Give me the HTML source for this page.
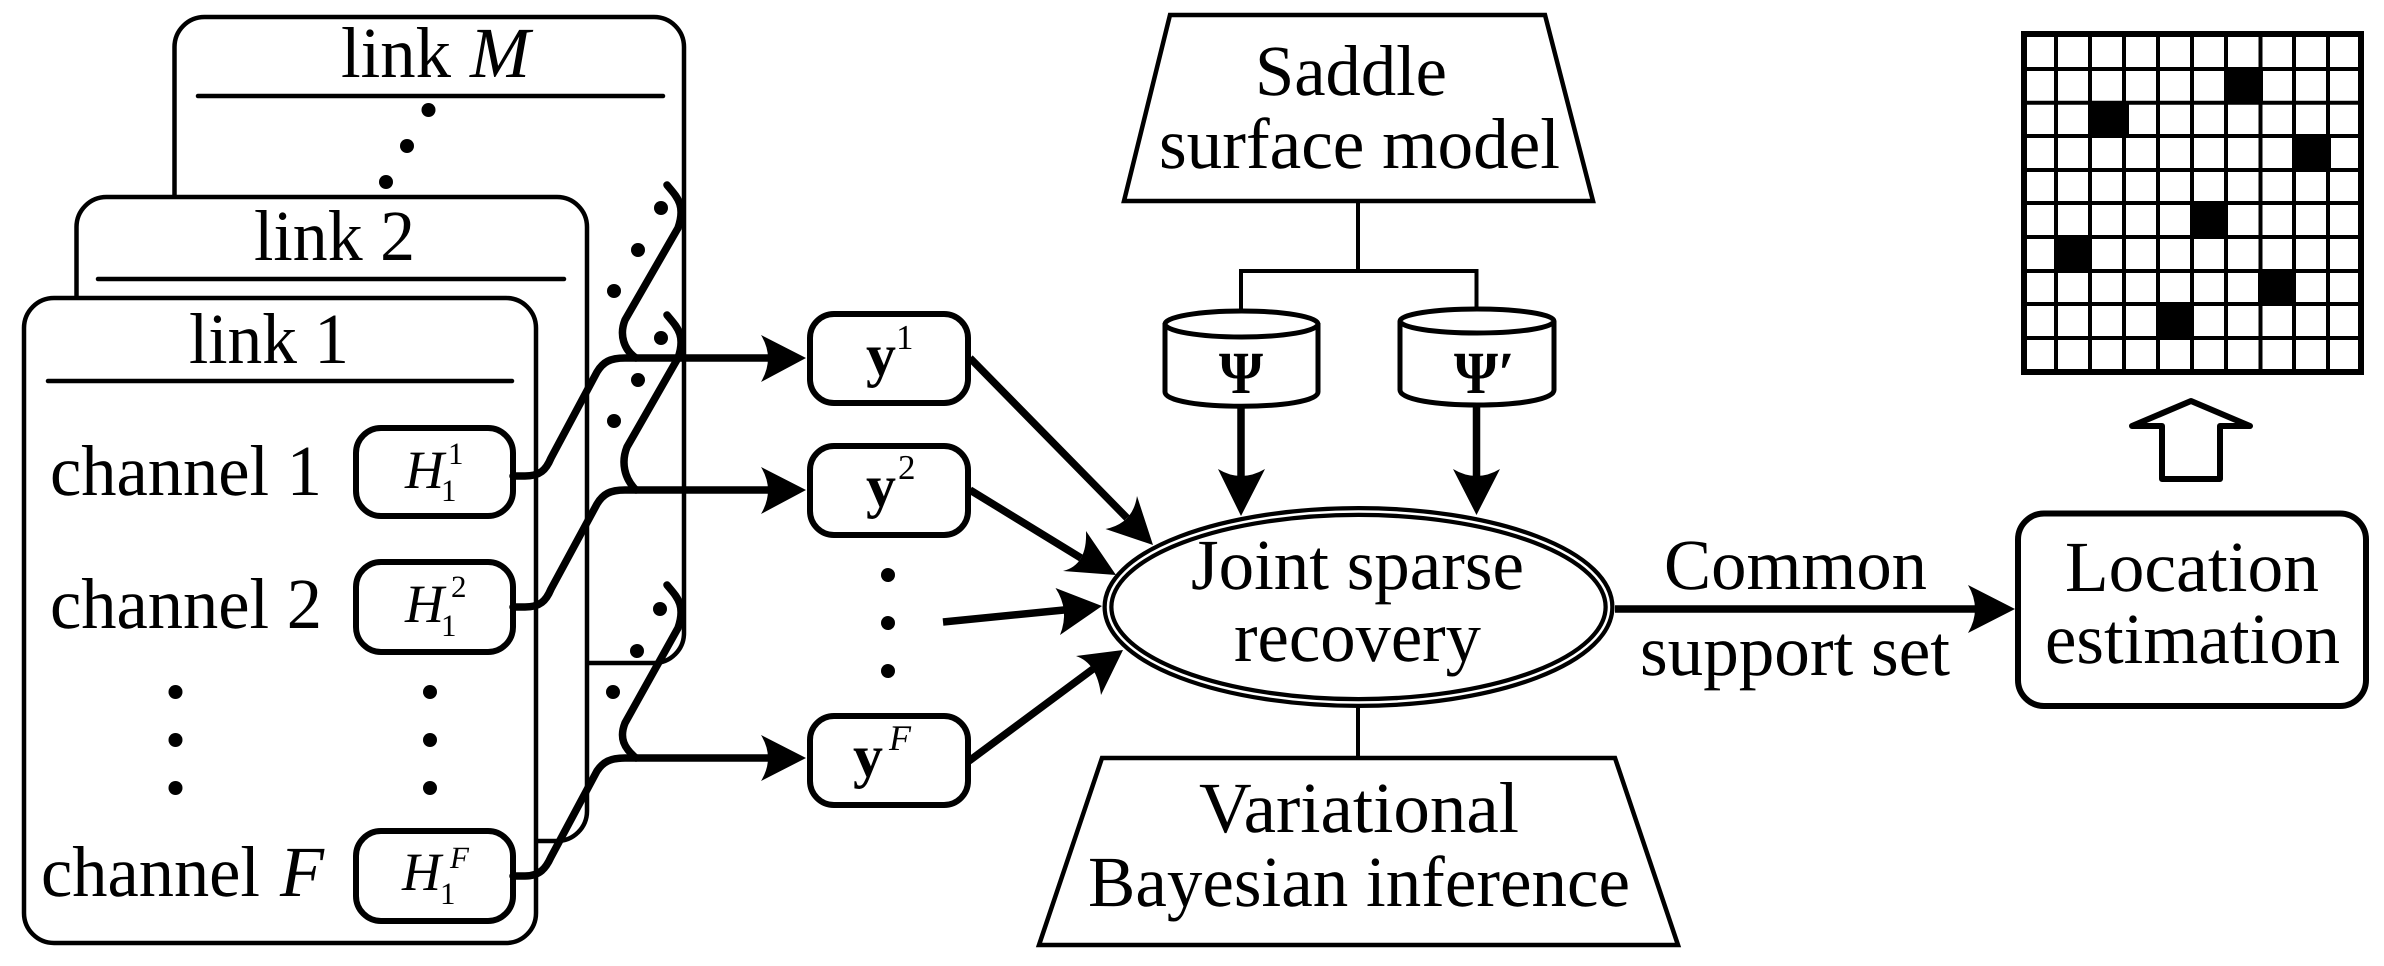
<!DOCTYPE html>
<html><head><meta charset="utf-8"><style>
html,body{margin:0;padding:0;background:#fff;width:2384px;height:966px;overflow:hidden}
svg{display:block}
text{font-family:"Liberation Serif",serif;fill:#000;text-rendering:geometricPrecision}
.i{font-style:italic}.b{font-weight:bold}
</style></head><body>
<svg width="2384" height="966" viewBox="0 0 2384 966" xmlns="http://www.w3.org/2000/svg">
<rect width="2384" height="966" fill="#fff"/>
<!-- link boxes -->
<g fill="#fff" stroke="#000" stroke-width="4.5">
<rect x="174.5" y="17" width="509.5" height="646" rx="30" ry="30"/>
<rect x="76.5" y="197" width="510.5" height="644" rx="30" ry="30"/>
<rect x="24" y="298" width="512" height="645" rx="30" ry="30"/>
</g>
<g stroke="#000" stroke-width="4.5" stroke-linecap="round">
<line x1="198" y1="96" x2="663" y2="96"/>
<line x1="98" y1="279" x2="564" y2="279"/>
<line x1="48" y1="381" x2="512" y2="381"/>
</g>
<g font-size="72">
<text x="341" y="77" textLength="110" lengthAdjust="spacingAndGlyphs">link</text>
<text x="470" y="77" class="i">M</text>
<text x="254" y="260" textLength="161" lengthAdjust="spacingAndGlyphs">link 2</text>
<text x="189" y="363" textLength="160" lengthAdjust="spacingAndGlyphs">link 1</text>
<text x="50" y="495" textLength="272" lengthAdjust="spacingAndGlyphs">channel 1</text>
<text x="50" y="628" textLength="272" lengthAdjust="spacingAndGlyphs">channel 2</text>
<text x="41" y="896" textLength="219" lengthAdjust="spacingAndGlyphs">channel</text>
<text x="280" y="896" class="i">F</text>
</g>
<!-- H boxes -->
<g fill="#fff" stroke="#000" stroke-width="6">
<rect x="356" y="428" width="157" height="88" rx="25" ry="25"/>
<rect x="356" y="562" width="157" height="90" rx="25" ry="25"/>
<rect x="356" y="831" width="157" height="90" rx="25" ry="25"/>
</g>
<text x="405" y="488" font-size="54" class="i">H</text>
<text x="448" y="464" font-size="31">1</text><text x="441" y="501" font-size="31">1</text>
<text x="405" y="622" font-size="54" class="i">H</text>
<text x="451" y="597" font-size="31">2</text><text x="441" y="636" font-size="31">1</text>
<text x="402" y="890" font-size="54" class="i">H</text>
<text x="450" y="868" font-size="31" class="i">F</text><text x="440" y="904" font-size="31">1</text>
<!-- dots -->
<g fill="#000">
<circle cx="175.5" cy="692" r="7"/><circle cx="175.5" cy="740" r="7"/><circle cx="175.5" cy="788" r="7"/>
<circle cx="430" cy="692" r="7"/><circle cx="430" cy="740" r="7"/><circle cx="430" cy="788" r="7"/>
<circle cx="428.5" cy="110" r="7"/><circle cx="407" cy="146" r="7"/><circle cx="386" cy="182" r="7"/>
<circle cx="661" cy="208" r="7"/><circle cx="638" cy="250" r="7"/><circle cx="614" cy="291" r="7"/>
<circle cx="661" cy="338" r="7"/><circle cx="638" cy="380" r="7"/><circle cx="614" cy="421" r="7"/>
<circle cx="660" cy="609" r="7"/><circle cx="637" cy="651" r="7"/><circle cx="613" cy="692" r="7"/>
<circle cx="888" cy="575" r="7"/><circle cx="888" cy="623" r="7"/><circle cx="888" cy="671" r="7"/>
</g>
<!-- curves -->
<g fill="none" stroke="#000" stroke-width="7.5" stroke-linecap="round" stroke-linejoin="round">
<path d="M667 185C677 197 686 205 678 228L625 320C619 335 624 350 636 358"/>
<path d="M667 315C677 327 686 335 678 358L627 447C621 462 624 478 636 490"/>
<path d="M667 585C677 597 686 605 678 628L625 723C619 738 624 748 636 758"/>
<path d="M513 476H525C540 476 546 470 551 458L597 372C603 362 610 358 625 358H775"/>
<path d="M513 607H525C540 607 546 601 551 589L597 504C603 494 610 490 625 490H775"/>
<path d="M513 876H525C540 876 546 868 551 857L597 771C603 762 610 758 625 758H775"/>
</g>
<!-- arrowheads for curves -->
<g fill="#000">
<path d="M761 335L806 358L761 382Q775 358 761 335Z"/>
<path d="M761 467L806 490L761 514Q775 490 761 467Z"/>
<path d="M761 735L806 758L761 781Q775 758 761 735Z"/>
</g>
<!-- y boxes -->
<g fill="#fff" stroke="#000" stroke-width="6">
<rect x="810" y="314" width="158" height="89" rx="24" ry="24"/>
<rect x="810" y="446" width="158" height="89" rx="24" ry="24"/>
<rect x="810" y="716" width="158" height="89" rx="24" ry="24"/>
</g>
<text x="866" y="375" font-size="60" class="b">y</text><text x="896" y="349" font-size="35">1</text>
<text x="866" y="506" font-size="60" class="b">y</text><text x="898" y="479" font-size="35">2</text>
<text x="853" y="776" font-size="60" class="b">y</text><text x="889" y="750" font-size="36" class="i">F</text>
<!-- arrows into ellipse -->
<g stroke="#000" stroke-width="7.5" stroke-linecap="butt">
<line x1="970" y1="358" x2="1127" y2="518"/>
<line x1="970" y1="490" x2="1081" y2="558"/>
<line x1="943" y1="622" x2="1064" y2="610"/>
<line x1="969" y1="761" x2="1093" y2="669"/>
<line x1="1241" y1="407" x2="1241" y2="480"/>
<line x1="1476.5" y1="405" x2="1476.5" y2="480"/>
<line x1="1615" y1="609" x2="1980" y2="609"/>
</g>
<g fill="#000">
<path d="M1153 545L1137 496Q1133 523.5 1105.5 529Z"/>
<path d="M1116 575L1086 531Q1087.5 565 1063 571Z"/>
<path d="M1102 606L1055.5 588Q1070 610 1060 635Z"/>
<path d="M1123 650L1076 656Q1097 663 1101 695Z"/>
<path d="M1241 516L1218 469Q1241 483 1265 469Z"/>
<path d="M1476.5 515L1453 469Q1476.5 483 1500 469Z"/>
<path d="M2015 609L1968 585Q1982 609 1968 633Z"/>
</g>
<!-- connectors -->
<g fill="none" stroke="#000" stroke-width="4">
<line x1="1358" y1="201" x2="1358" y2="271"/>
<path d="M1241 310V271H1476.5V308"/>
<line x1="1358" y1="706" x2="1358" y2="758"/>
</g>
<!-- trapezoids -->
<g fill="#fff" stroke="#000" stroke-width="4.5" stroke-linejoin="miter">
<path d="M1170 15H1545L1593 201H1124Z"/>
<path d="M1102 758H1615L1678 945H1039Z"/>
</g>
<g font-size="72">
<text x="1255" y="95" textLength="192" lengthAdjust="spacingAndGlyphs">Saddle</text>
<text x="1159" y="168" textLength="401" lengthAdjust="spacingAndGlyphs">surface model</text>
<text x="1199" y="832" textLength="320" lengthAdjust="spacingAndGlyphs">Variational</text>
<text x="1088" y="906" textLength="542" lengthAdjust="spacingAndGlyphs">Bayesian inference</text>
</g>
<!-- cylinders -->
<g fill="#fff" stroke="#000" stroke-width="5">
<path d="M1165 323V392C1165 411 1318 411 1318 392V323"/>
<ellipse cx="1241.5" cy="324" rx="76.5" ry="13"/>
<path d="M1400 321V390C1400 410 1554 410 1554 390V321"/>
<ellipse cx="1477" cy="321" rx="77" ry="12"/>
</g>
<text x="1219" y="393" font-size="60" class="b" textLength="44" lengthAdjust="spacingAndGlyphs">Ψ</text>
<text x="1454" y="393" font-size="60" class="b" textLength="44" lengthAdjust="spacingAndGlyphs">Ψ</text>
<text x="1498" y="393" font-size="60" class="b">′</text>
<!-- ellipse -->
<ellipse cx="1358.5" cy="607" rx="250.5" ry="95.5" fill="#fff" stroke="#000" stroke-width="11"/>
<ellipse cx="1358.5" cy="607" rx="250.5" ry="95.5" fill="none" stroke="#fff" stroke-width="2.5"/>
<g font-size="72">
<text x="1191" y="589" textLength="333" lengthAdjust="spacingAndGlyphs">Joint sparse</text>
<text x="1234" y="661" textLength="247" lengthAdjust="spacingAndGlyphs">recovery</text>
<text x="1664" y="589" textLength="263" lengthAdjust="spacingAndGlyphs">Common</text>
<text x="1640" y="675" textLength="310" lengthAdjust="spacingAndGlyphs">support set</text>
</g>
<!-- location -->
<rect x="2018" y="513.5" width="348" height="192.5" rx="26" ry="26" fill="#fff" stroke="#000" stroke-width="6"/>
<g font-size="72">
<text x="2065" y="591" textLength="254" lengthAdjust="spacingAndGlyphs">Location</text>
<text x="2045" y="663" textLength="295" lengthAdjust="spacingAndGlyphs">estimation</text>
</g>
<!-- grid -->
<g fill="#000">
<rect x="2224" y="67" width="39" height="37"/>
<rect x="2091" y="101" width="38" height="37"/>
<rect x="2293" y="134" width="38" height="38"/>
<rect x="2190" y="201" width="38" height="37"/>
<rect x="2054" y="235" width="38" height="38"/>
<rect x="2258" y="269" width="38" height="37"/>
<rect x="2156" y="302" width="38" height="38"/>
</g>
<g stroke="#000" stroke-width="4" fill="none">
<path d="M2056 34V372M2090 34V372M2124 34V372M2158 34V372M2192 34V372M2226 34V372M2260.5 34V372M2294 34V372M2328 34V372"/>
<path d="M2024 69H2361M2024 102.7H2361M2024 136H2361M2024 170H2361M2024 203H2361M2024 237H2361M2024 271H2361M2024 304H2361M2024 338H2361"/>
</g>
<rect x="2024" y="34" width="337" height="338" fill="none" stroke="#000" stroke-width="6"/>
<!-- hollow arrow -->
<path d="M2191 401L2250 426H2220V479H2162V426H2132Z" fill="#fff" stroke="#000" stroke-width="6" stroke-linejoin="round"/>
</svg>
</body></html>
